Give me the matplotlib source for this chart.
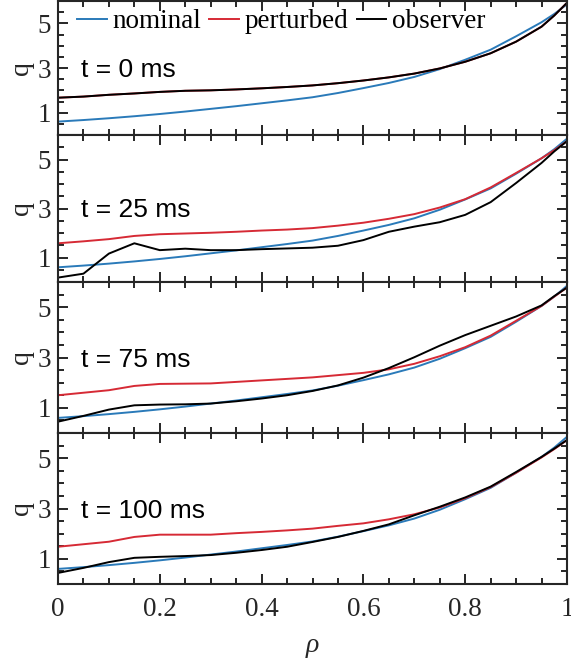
import matplotlib
matplotlib.use("Agg")
import matplotlib.pyplot as plt
from matplotlib.ticker import MultipleLocator, FixedLocator, FormatStrFormatter

# normalised radius
rho = [0.00, 0.05, 0.10, 0.15, 0.20, 0.25, 0.30, 0.35, 0.40, 0.45, 0.50,
       0.55, 0.60, 0.65, 0.70, 0.75, 0.80, 0.85, 0.90, 0.95, 0.975, 1.00]

# nominal q profile (same in every panel)
q_nominal = [0.60, 0.67, 0.75, 0.84, 0.94, 1.05, 1.17, 1.29, 1.42, 1.55, 1.69,
             1.88, 2.10, 2.33, 2.60, 2.95, 3.37, 3.82, 4.42, 5.05, 5.42, 5.85]

# perturbed and observer profiles at each time slice
times_ms = [0, 25, 75, 100]

q_perturbed_0 = [1.67, 1.72, 1.80, 1.86, 1.93, 1.98, 2.00, 2.04, 2.09, 2.15, 2.22,
                 2.32, 2.44, 2.58, 2.75, 2.98, 3.28, 3.66, 4.18, 4.85, 5.35, 5.92]
q_observer_0 = [1.67, 1.72, 1.80, 1.86, 1.93, 1.98, 2.00, 2.04, 2.09, 2.15, 2.22,
                2.32, 2.44, 2.58, 2.75, 2.98, 3.28, 3.66, 4.18, 4.85, 5.35, 5.92]

q_perturbed_25 = [1.58, 1.66, 1.75, 1.88, 1.95, 1.98, 2.01, 2.05, 2.10, 2.14, 2.20,
                  2.30, 2.42, 2.58, 2.77, 3.04, 3.38, 3.86, 4.45, 5.05, 5.38, 5.75]
q_observer_25 = [0.18, 0.34, 1.16, 1.58, 1.30, 1.36, 1.30, 1.30, 1.34, 1.37, 1.40,
                 1.48, 1.71, 2.05, 2.26, 2.44, 2.74, 3.26, 4.04, 4.86, 5.33, 5.75]

q_perturbed_75 = [1.50, 1.60, 1.70, 1.87, 1.95, 1.96, 1.97, 2.03, 2.09, 2.15, 2.21,
                  2.30, 2.39, 2.53, 2.75, 3.05, 3.41, 3.87, 4.46, 5.05, 5.42, 5.78]
q_observer_75 = [0.45, 0.68, 0.93, 1.10, 1.13, 1.14, 1.17, 1.26, 1.37, 1.50, 1.67,
                 1.89, 2.20, 2.58, 3.01, 3.47, 3.89, 4.26, 4.63, 5.07, 5.44, 5.78]

q_perturbed_100 = [1.48, 1.58, 1.68, 1.87, 1.96, 1.96, 1.96, 2.02, 2.07, 2.13, 2.20,
                   2.31, 2.41, 2.57, 2.77, 3.04, 3.41, 3.85, 4.42, 5.03, 5.36, 5.72]
q_observer_100 = [0.44, 0.64, 0.87, 1.04, 1.08, 1.11, 1.15, 1.24, 1.35, 1.48, 1.67,
                  1.87, 2.11, 2.37, 2.73, 3.07, 3.44, 3.87, 4.45, 5.05, 5.38, 5.72]

perturbed = [q_perturbed_0, q_perturbed_25, q_perturbed_75, q_perturbed_100]
observer = [q_observer_0, q_observer_25, q_observer_75, q_observer_100]

series_labels = ["nominal", "perturbed", "observer"]
y_major_ticks = [1, 3, 5]

BLUE = "#2a7ab9"
RED = "#d62a35"
DARK = "#262626"
SERIF = "Liberation Serif"
SANS = "Liberation Sans"

plt.rcParams["font.family"] = SERIF

W, H = 571, 667
fig = plt.figure(figsize=(W / 100, H / 100), dpi=100)

# panel edges in pixels from the top
edges = [1, 135, 282, 433, 584]
left_px, right_px = 58, 567

axes = []
for i in range(4):
    top, bot = edges[i], edges[i + 1]
    ax = fig.add_axes([left_px / W, 1 - bot / H, (right_px - left_px) / W, (bot - top) / H])
    axes.append(ax)

for i, ax in enumerate(axes):
    ax.plot(rho, q_nominal, color=BLUE, lw=1.4, label=series_labels[0])
    ax.plot(rho, perturbed[i], color=RED, lw=1.4, label=series_labels[1])
    ax.plot(rho, observer[i], color="black", lw=1.4, label=series_labels[2])

    ax.set_xlim(0, 1)
    ax.set_ylim(0, 6)
    ax.xaxis.set_major_locator(MultipleLocator(0.2))
    ax.xaxis.set_minor_locator(MultipleLocator(0.05))
    ax.xaxis.set_major_formatter(FormatStrFormatter("%g"))
    ax.yaxis.set_major_locator(FixedLocator(y_major_ticks))
    ax.yaxis.set_minor_locator(MultipleLocator(0.5))

    ax.tick_params(which="both", direction="in", top=True, right=True,
                   color=DARK, width=1.4, labelcolor=DARK, labelsize=19.5)
    ax.tick_params(which="major", length=7.5)
    ax.tick_params(which="minor", length=4)
    ax.tick_params(axis="y", pad=5)
    ax.tick_params(axis="x", pad=9)
    for sp in ax.spines.values():
        sp.set_linewidth(1.5)
        sp.set_color(DARK)

    if i < 3:
        ax.tick_params(labelbottom=False)

    ax.set_ylabel("q", fontsize=20, color=DARK)
    ax.yaxis.set_label_coords(-0.048, 0.5)

    ax.text(0.045, 2.92, f"t = {times_ms[i]} ms", family=SANS, fontsize=19,
            ha="left", va="center", color="black")

leg = axes[0].legend(loc="center left", bbox_to_anchor=(0.038, 0.845), ncol=3,
                     frameon=False, fontsize=19.5, handlelength=1.1,
                     handletextpad=0.2, columnspacing=0.3, borderpad=0,
                     borderaxespad=0)

axes[-1].set_xlabel("ρ", fontsize=20, fontstyle="italic", color=DARK, va="baseline")
axes[-1].xaxis.set_label_coords(0.5, (584 - 652) / 151)

fig.savefig("out.png", dpi=100)
